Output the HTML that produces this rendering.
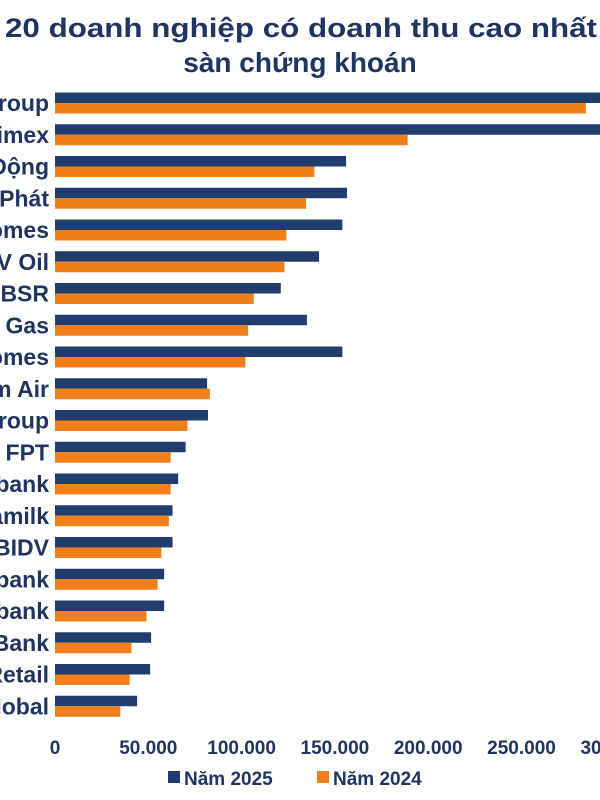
<!DOCTYPE html>
<html><head><meta charset="utf-8"><style>
html,body{margin:0;padding:0;background:#fff;overflow:hidden}
svg{display:block}
text{font-family:"Liberation Sans","Noto Sans CJK SC",sans-serif;font-weight:bold;fill:#1f3560}
</style></head><body>
<svg id="chart" width="600" height="800">
<text x="5" y="37" font-size="27" textLength="592" lengthAdjust="spacingAndGlyphs">20 doanh nghiệp có doanh thu cao nhất</text>
<text x="300" y="72" font-size="28" text-anchor="middle">sàn chứng khoán</text>
<g id="bars"></g><g id="labels"></g><g id="ticks"></g>
<g>
<rect x="168" y="771" width="12" height="12" fill="#203d6e"/>
<text x="184" y="785" font-size="19">Năm 2025</text>
<rect x="317" y="771" width="12" height="12" fill="#f0801c"/>
<text x="333" y="785" font-size="19">Năm 2024</text>
</g>
</svg>
<script>
const categories=["Vingroup","Petrolimex","Thế Giới Di Động","Hòa Phát","Vinhomes","PV Oil","BSR","PV Gas","Masan Homes","Vietnam Air","Masan Group","FPT","Vietinbank","Vinamilk","BIDV","Vietcombank","Techcombank","MB Bank","Digiworld Retail","Gelex Global"];
const values2025=[310,305,156,156.5,154,141.5,121,135,154,81.5,82,70,66,63,63,58.5,58.5,51.5,51,44];
const values2024=[284.5,189,139,134.5,124,123,106.5,103.5,102,83,71,62,62,61,57,55,49,41,40,35];
const tickValues=[0,50,100,150,200,250,300];
const tickLabels=["0","50.000","100.000","150.000","200.000","250.000","300.000"];
const NS="http://www.w3.org/2000/svg";
const x0=55,pxPer=1.866;
function xs(v){return x0+v*pxPer;}
function yc(i){return 103+i*31.75;}
const bars=document.getElementById('bars'),labels=document.getElementById('labels'),ticks=document.getElementById('ticks');
function mk(tag,attrs,parent){const e=document.createElementNS(NS,tag);for(const k in attrs)e.setAttribute(k,attrs[k]);parent.appendChild(e);return e;}
categories.forEach((c,i)=>{
  const y=yc(i);
  const b1=mk('rect',{x:x0,y:y-10.5,width:xs(values2025[i])-x0,height:10.5,fill:'#203d6e'},bars);
  
  
  const b2=mk('rect',{x:x0,y:y,width:xs(values2024[i])-x0,height:10.5,fill:'#f0801c'},bars);
  
  
  const t=mk('text',{x:49,y:y+8,'font-size':23,'text-anchor':'end'},labels);
  t.textContent=c;
  
  
});
tickValues.forEach((v,i)=>{
  const t=mk('text',{x:xs(v),y:754,'font-size':19,'text-anchor':'middle'},ticks);
  t.textContent=tickLabels[i];
  
  
});
</script>
</body></html>
